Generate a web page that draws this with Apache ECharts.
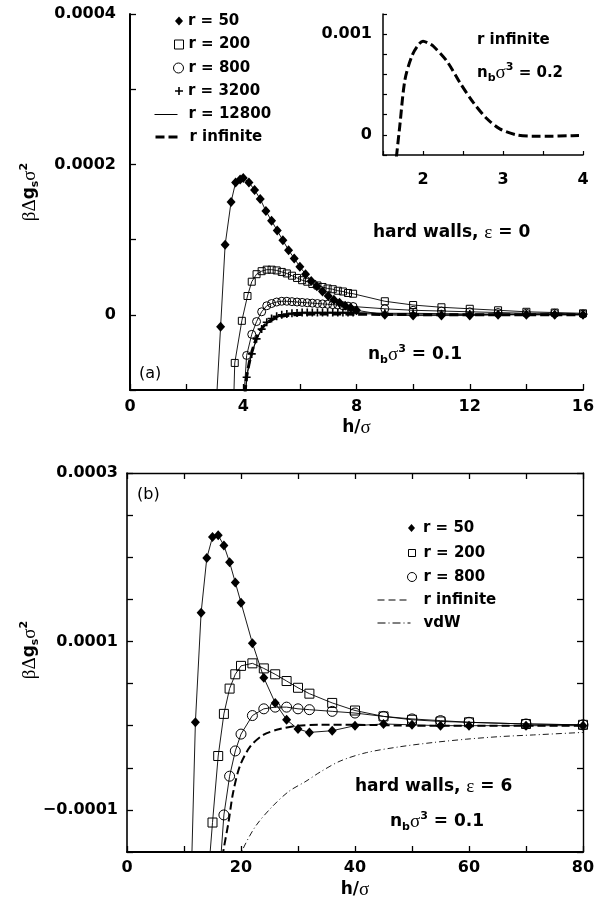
<!DOCTYPE html>
<html>
<head>
<meta charset="utf-8">
<script src="https://cdn.jsdelivr.net/npm/echarts@6/dist/echarts.min.js"></script>
<style>html,body{margin:0;padding:0;background:#fff}#c{width:605px;height:909px}</style>
</head>
<body>
<div id="c"></div>
<script>
// ---------- DATA (y values in units of 1e-4) ----------
const Y_UNIT = 1e-4;

// Panel (a): hard walls, eps = 0, n_b sigma^3 = 0.1
const a_h50 = [3.0, 3.2, 3.36, 3.57, 3.73, 3.89, 4.0, 4.2, 4.4, 4.6, 4.8, 5.0, 5.2, 5.4, 5.6, 5.8, 6.0, 6.2, 6.4, 6.6, 6.8, 7.0, 7.2, 7.4, 7.6, 7.8, 8.0, 9, 10, 11, 12, 13, 14, 15, 16];
const a_v50 = [-1.5, -0.16, 0.93, 1.50, 1.76, 1.80, 1.82, 1.76, 1.66, 1.54, 1.38, 1.25, 1.12, 0.99, 0.86, 0.75, 0.64, 0.54, 0.45, 0.38, 0.31, 0.25, 0.20, 0.16, 0.12, 0.09, 0.06, 0.0, -0.01, -0.01, -0.01, 0.0, 0.0, 0.0, 0.0];

const a_h200 = [3.6, 3.7, 3.95, 4.15, 4.3, 4.47, 4.65, 4.83, 5.0, 5.18, 5.36, 5.54, 5.72, 5.9, 6.08, 6.26, 6.44, 6.62, 6.8, 6.98, 7.16, 7.34, 7.52, 7.7, 7.88, 9, 10, 11, 12, 13, 14, 15, 16];
const a_v200 = [-2.0, -0.64, -0.08, 0.25, 0.44, 0.54, 0.58, 0.60, 0.60, 0.59, 0.57, 0.55, 0.52, 0.49, 0.46, 0.44, 0.41, 0.39, 0.37, 0.35, 0.34, 0.32, 0.31, 0.29, 0.28, 0.18, 0.13, 0.10, 0.08, 0.06, 0.04, 0.03, 0.02];

const a_h800 = [3.95, 4.12, 4.3, 4.47, 4.65, 4.83, 5.0, 5.18, 5.36, 5.54, 5.72, 5.9, 6.08, 6.26, 6.44, 6.62, 6.8, 6.98, 7.16, 7.34, 7.52, 7.7, 7.88, 9, 10, 11, 12, 13, 14, 15, 16];
const a_v800 = [-1.5, -0.54, -0.26, -0.09, 0.04, 0.12, 0.15, 0.17, 0.18, 0.18, 0.175, 0.17, 0.165, 0.16, 0.155, 0.15, 0.145, 0.14, 0.135, 0.13, 0.12, 0.115, 0.11, 0.08, 0.06, 0.05, 0.04, 0.03, 0.02, 0.02, 0.01];

const a_h3200 = [4.0, 4.12, 4.3, 4.47, 4.65, 4.83, 5.0, 5.18, 5.36, 5.54, 5.72, 5.9, 6.08, 6.26, 6.44, 6.62, 6.8, 6.98, 7.16, 7.34, 7.52, 7.7, 7.88, 9, 10, 11, 12, 13, 14, 15, 16];
const a_v3200 = [-1.4, -0.83, -0.52, -0.32, -0.19, -0.10, -0.05, -0.02, 0.0, 0.01, 0.02, 0.025, 0.03, 0.03, 0.03, 0.03, 0.03, 0.03, 0.03, 0.03, 0.03, 0.03, 0.03, 0.02, 0.02, 0.015, 0.01, 0.01, 0.01, 0.005, 0.005];

const a_h12800 = [4.02, 4.15, 4.3, 4.5, 4.7, 5.0, 5.3, 5.6, 6.0, 7.0, 8.0, 9, 10, 12, 14, 16];
const a_v12800 = [-1.3, -0.75, -0.5, -0.3, -0.17, -0.07, -0.02, 0.0, 0.015, 0.02, 0.015, 0.01, 0.008, 0.005, 0.003, 0.0];

const a_hInf = [4.0, 4.1, 4.2, 4.3, 4.4, 4.5, 4.6, 4.8, 5.0, 5.2, 5.5, 6.0, 7.0, 8.0, 9, 10, 12, 14, 16];
const a_vInf = [-1.4, -0.88, -0.66, -0.5, -0.38, -0.28, -0.21, -0.12, -0.07, -0.035, -0.01, 0.005, 0.01, 0.008, 0.005, 0.002, 0, 0, 0];

// Inset: r infinite, n_b sigma^3 = 0.2
const in_h = [1.65, 1.71, 1.775, 1.86, 1.93, 2.0, 2.07, 2.13, 2.3, 2.46, 2.63, 2.8, 2.96, 3.17, 3.38, 3.6, 3.8, 3.95];
const in_v = [-3.5, 0.9, 5.5, 7.8, 8.8, 9.3, 9.1, 8.8, 7.3, 5.2, 3.2, 1.6, 0.6, 0.0, -0.13, -0.13, -0.1, -0.07];

// Panel (b): hard walls, eps = 6, n_b sigma^3 = 0.1
const b_h50 = [11, 12, 13, 14, 15, 16, 17, 18, 19, 20, 22, 24, 26, 28, 30, 32, 36, 40, 45, 50, 55, 60, 70, 80];
const b_v50 = [-2.5, 0.04, 1.34, 1.99, 2.24, 2.26, 2.14, 1.94, 1.70, 1.46, 0.98, 0.57, 0.27, 0.07, -0.04, -0.08, -0.06, 0.0, 0.02, 0.01, 0.0, 0.0, 0.0, 0.0];

const b_h200 = [14, 15, 16, 17, 18, 19, 20, 22, 24, 26, 28, 30, 32, 36, 40, 45, 50, 55, 60, 70, 80];
const b_v200 = [-2.0, -1.15, -0.36, 0.14, 0.44, 0.61, 0.71, 0.74, 0.68, 0.61, 0.53, 0.45, 0.38, 0.27, 0.18, 0.11, 0.07, 0.05, 0.04, 0.02, 0.01];

const b_h800 = [16, 17, 18, 19, 20, 22, 24, 26, 28, 30, 32, 36, 40, 45, 50, 55, 60, 70, 80];
const b_v800 = [-2.0, -1.06, -0.60, -0.30, -0.10, 0.12, 0.20, 0.22, 0.22, 0.20, 0.19, 0.17, 0.15, 0.11, 0.08, 0.06, 0.04, 0.02, 0.01];

const b_hInf = [16.5, 16.9, 17.8, 18.6, 19.8, 21.6, 23.9, 26.8, 30, 34, 40, 50, 60, 70, 80];
const b_vInf = [-1.7, -1.49, -1.15, -0.80, -0.48, -0.25, -0.11, -0.04, 0.0, 0.01, 0.01, 0.0, 0.0, 0.0, 0.0];

const b_hVdw = [19.8, 20.3, 22.6, 25.5, 28.4, 31.4, 33.9, 37.4, 42, 47.9, 53.7, 59.6, 65.4, 71.3, 80];
const b_vVdw = [-1.6, -1.47, -1.19, -0.96, -0.78, -0.66, -0.55, -0.42, -0.32, -0.25, -0.20, -0.16, -0.13, -0.11, -0.08];

// Tick labels
const aXLabels = [0, 4, 8, 12, 16];
const aYLabels = ['0', '0.0002', '0.0004'];
const inXLabels = [2, 3, 4];
const inYLabels = ['0', '0.001'];
const bXLabels = [0, 20, 40, 60, 80];
const bYLabels = ['−0.0001', '0.0001', '0.0003'];

// ---------- BUILD ----------
const pts = (hs, vs) => hs.map((h, i) => [h, vs[i] * Y_UNIT]);
const SANS = 'DejaVu Sans';
const SERIF = 'Liberation Serif';
const PLUS = 'path://M4,0H6V4H10V6H6V10H4V6H0V4H4Z';

const chart = echarts.init(document.getElementById('c'), null, {renderer: 'canvas'});

function axisBase(extra) {
  return Object.assign({
    type: 'value',
    splitLine: {show: false},
    axisLine: {onZero: false, lineStyle: {color: '#000', width: 1.6}},
    axisTick: {inside: true, length: 6, lineStyle: {color: '#000', width: 1.3}},
    axisLabel: {color: '#000', fontFamily: SANS, fontWeight: 'bold', fontSize: 16}
  }, extra);
}
// integer keys avoid float rounding in label matching
const lab = (v, scale, list) => {
  const k = Math.round(v * scale);
  const s = k === 0 ? '0' : String(k / scale).replace('-', '−');
  return list.includes(s) ? s : '';
};
const isIntIn = (v, list) => Math.abs(v - Math.round(v)) < 1e-9 && list.includes(Math.round(v));

const titleRich = {
  g: {fontFamily: SERIF, fontSize: 19, color: '#000', lineHeight: 22},
  b: {fontFamily: SANS, fontWeight: 'bold', fontSize: 17, color: '#000', lineHeight: 22},
  sub: {fontFamily: SANS, fontWeight: 'bold', fontSize: 11, color: '#000', verticalAlign: 'bottom'},
  sup: {fontFamily: SANS, fontWeight: 'bold', fontSize: 11, color: '#000', verticalAlign: 'top'}
};

const xA = [
  axisBase({gridIndex: 0, min: 0, max: 16, interval: 2,
    axisLine: {onZero: false, lineStyle: {color: '#000', width: 2}},
    axisLabel: {color: '#000', fontFamily: SANS, fontWeight: 'bold', fontSize: 16, margin: 9,
      formatter: v => isIntIn(v, aXLabels) ? String(Math.round(v)) : ''},
    name: '{b|h/}{g|σ}', nameLocation: 'middle', nameGap: 27,
    nameTextStyle: {rich: titleRich}}),
  axisBase({gridIndex: 1, min: 1.5, max: 4, interval: 0.5,
    axisLine: {onZero: false, lineStyle: {color: '#000', width: 1.5}},
    axisTick: {inside: true, length: 4, lineStyle: {color: '#000', width: 1.2}},
    axisLabel: {color: '#000', fontFamily: SANS, fontWeight: 'bold', fontSize: 16, margin: 17,
      formatter: v => isIntIn(v, inXLabels) ? String(Math.round(v)) : ''}}),
  axisBase({gridIndex: 2, min: 0, max: 80, interval: 10,
    axisLine: {onZero: false, lineStyle: {color: '#000', width: 2}},
    axisLabel: {color: '#000', fontFamily: SANS, fontWeight: 'bold', fontSize: 16, margin: 8,
      formatter: v => isIntIn(v, bXLabels) ? String(Math.round(v)) : ''},
    name: '{b|h/}{g|σ}', nameLocation: 'middle', nameGap: 27,
    nameTextStyle: {rich: titleRich}}),
  axisBase({gridIndex: 2, min: 0, max: 80, interval: 10, position: 'top',
    axisLine: {onZero: false, lineStyle: {color: '#000', width: 1.4}},
    axisLabel: {show: false}})
];

const yA = [
  axisBase({gridIndex: 0, min: -0.0001, max: 0.0004, interval: 0.0001,
    axisLine: {onZero: false, lineStyle: {color: '#000', width: 2}},
    axisLabel: {color: '#000', fontFamily: SANS, fontWeight: 'bold', fontSize: 16, margin: 14,
      formatter: v => lab(v, 1e4, aYLabels)}}),
  axisBase({gridIndex: 1, min: -0.0002, max: 0.0012, interval: 0.0002,
    axisLine: {onZero: false, lineStyle: {color: '#000', width: 1.5}},
    axisTick: {inside: true, length: 4, lineStyle: {color: '#000', width: 1.2}},
    axisLabel: {color: '#000', fontFamily: SANS, fontWeight: 'bold', fontSize: 16, margin: 11,
      formatter: v => lab(v, 1e4, inYLabels)}}),
  axisBase({gridIndex: 2, min: -0.00015, max: 0.0003, interval: 0.00005,
    axisLabel: {color: '#000', fontFamily: SANS, fontWeight: 'bold', fontSize: 16, margin: 9,
      formatter: v => lab(v, 1e5, bYLabels)}}),
  axisBase({gridIndex: 2, min: -0.00015, max: 0.0003, interval: 0.00005, position: 'right',
    axisLine: {onZero: false, lineStyle: {color: '#000', width: 1.4}},
    axisLabel: {show: false}})
];

function ser(name, xi, yi, hs, vs, o) {
  return Object.assign({
    name, type: 'line', xAxisIndex: xi, yAxisIndex: yi,
    data: pts(hs, vs), clip: true, showAllSymbol: true,
    symbol: 'none', symbolSize: 8,
    lineStyle: {color: '#000', width: 0.9},
    itemStyle: {color: '#000'},
    emphasis: {disabled: true}, animation: false, silent: true
  }, o);
}
const hollowT = {color: 'rgba(255,255,255,0)', borderColor: '#000', borderWidth: 1};

const series = [
  ser('r = 12800', 0, 0, a_h12800, a_v12800, {z: 2}),
  ser('r infinite', 0, 0, a_hInf, a_vInf, {smooth: 0.3, lineStyle: {color: '#000', width: 3, type: [9, 4]}, z: 3}),
  ser('r = 3200', 0, 0, a_h3200, a_v3200, {symbol: PLUS, symbolSize: 8, z: 4}),
  ser('r = 800', 0, 0, a_h800, a_v800, {symbol: 'circle', symbolSize: 8, itemStyle: hollowT, z: 5}),
  ser('r = 200', 0, 0, a_h200, a_v200, {symbol: 'rect', symbolSize: 7, itemStyle: hollowT, z: 6}),
  ser('r = 50', 0, 0, a_h50, a_v50, {symbol: 'diamond', symbolSize: [9, 10], z: 7}),
  ser('inset', 1, 1, in_h, in_v, {smooth: 0.3, lineStyle: {color: '#000', width: 3, type: [9, 4]}}),
  ser('b:vdW', 2, 2, b_hVdw, b_vVdw, {smooth: 0.3, lineStyle: {color: '#000', width: 0.9, type: [6, 3, 1, 3]}}),
  ser('b:r infinite', 2, 2, b_hInf, b_vInf, {smooth: 0.3, lineStyle: {color: '#000', width: 2, type: [8, 4]}}),
  ser('b:r = 800', 2, 2, b_h800, b_v800, {symbol: 'circle', symbolSize: 10, itemStyle: hollowT}),
  ser('b:r = 200', 2, 2, b_h200, b_v200, {symbol: 'rect', symbolSize: 9, itemStyle: hollowT}),
  ser('b:r = 50', 2, 2, b_h50, b_v50, {symbol: 'diamond', symbolSize: [9, 10]})
];

// Legends: one per entry so each icon can have its own size
function leg(name, textLeft, cy, icon, w, h, itemStyle, extra) {
  const pad = extra && extra.pad ? extra.pad : 0;
  const item = {name: name};
  if (icon) item.icon = icon;
  if (itemStyle) item.itemStyle = itemStyle;
  if (extra && extra.lineStyle) item.lineStyle = extra.lineStyle;
  const o = {
    data: [item], orient: 'vertical', selectedMode: false, padding: 0,
    left: textLeft - 5 - w - pad, top: cy - 9,
    itemWidth: w, itemHeight: h,
    formatter: n => n.replace(/^b:/, ''),
    textStyle: {color: '#000', fontFamily: SANS, fontWeight: 'bold', fontSize: 15, lineHeight: 18, padding: [0, 0, 0, pad]}
  };
  if (extra && extra.lineStyle) o.lineStyle = extra.lineStyle;
  return o;
}
const blk = {color: '#000', borderWidth: 0};
const wht = {color: '#fff', borderColor: '#000', borderWidth: 1};
const noSym = {color: 'rgba(0,0,0,0)', borderWidth: 0, opacity: 0};
const legends = [
  leg('r = 50', 188, 21, 'diamond', 8, 9, blk),
  leg('r = 200', 188, 44.5, 'rect', 9, 9, wht),
  leg('r = 800', 188, 68, 'circle', 10, 10, wht),
  leg('r = 3200', 188, 91, PLUS, 8, 8, blk),
  leg('r = 12800', 188, 114.5, null, 23, 10, noSym, {pad: 6, lineStyle: {color: '#000', width: 1, type: 'solid'}}),
  leg('r infinite', 188, 137, null, 23, 10, noSym, {pad: 6, lineStyle: {color: '#000', width: 3, type: [9, 4]}}),
  leg('b:r = 50', 423, 528, 'diamond', 7, 8, blk, {pad: 3}),
  leg('b:r = 200', 423, 553, 'rect', 7, 7, wht, {pad: 3}),
  leg('b:r = 800', 423, 577, 'circle', 9, 9, wht, {pad: 2}),
  leg('b:r infinite', 423, 600, null, 33, 10, noSym, {pad: 8, lineStyle: {color: '#000', width: 1, type: [7, 4]}}),
  leg('b:vdW', 423, 623, null, 33, 10, noSym, {pad: 8, lineStyle: {color: '#000', width: 1, type: [8, 3, 1, 3]}})
];

const txtRich = {
  b: {fontFamily: SANS, fontWeight: 'bold', fontSize: 17, fill: '#000', lineHeight: 22},
  g: {fontFamily: SERIF, fontSize: 19, fill: '#000', lineHeight: 22},
  sub: {fontFamily: SANS, fontWeight: 'bold', fontSize: 11, fill: '#000', verticalAlign: 'bottom'},
  sup: {fontFamily: SANS, fontWeight: 'bold', fontSize: 11, fill: '#000', verticalAlign: 'top'},
  r: {fontFamily: SANS, fontSize: 16, fill: '#000', lineHeight: 22},
  s: {fontFamily: SANS, fontWeight: 'bold', fontSize: 15, fill: '#000', lineHeight: 22}
};
function gtext(text, x, y, o) {
  return Object.assign({type: 'text', x: x, y: y, silent: true, z: 50,
    style: {text: text, rich: txtRich, align: 'left', verticalAlign: 'middle'}}, o || {});
}
const graphics = [
  gtext('{s|r infinite}', 477, 40),
  gtext('{s|n}{sub|b}{g|σ}{sup|3}{s| = 0.2}', 477, 73),
  gtext('{b|hard walls, }{g|ε}{b| = 0}', 373, 233),
  gtext('{b|n}{sub|b}{g|σ}{sup|3}{b| = 0.1}', 368, 355),
  gtext('{r|(a)}', 139, 374),
  gtext('{r|(b)}', 137, 495),
  gtext('{b|hard walls, }{g|ε}{b| = 6}', 355, 787),
  gtext('{b|n}{sub|b}{g|σ}{sup|3}{b| = 0.1}', 390, 822),
  {type: 'text', x: 30, y: 192, rotation: Math.PI / 2, silent: true,
    style: {text: '{g|βΔ}{b|g}{sub|s}{g|σ}{sup|2}', rich: txtRich, align: 'center', verticalAlign: 'middle'}},
  {type: 'text', x: 30, y: 650, rotation: Math.PI / 2, silent: true,
    style: {text: '{g|βΔ}{b|g}{sub|s}{g|σ}{sup|2}', rich: txtRich, align: 'center', verticalAlign: 'middle'}}
];

chart.setOption({
  animation: false,
  backgroundColor: '#fff',
  grid: [
    {left: 130, top: 14, width: 453, height: 376},
    {left: 383, top: 14, width: 200, height: 141},
    {left: 127, top: 473, width: 456, height: 379}
  ],
  xAxis: xA,
  yAxis: yA,
  legend: legends,
  series: series,
  graphic: {elements: graphics}
});
</script>
</body>
</html>
